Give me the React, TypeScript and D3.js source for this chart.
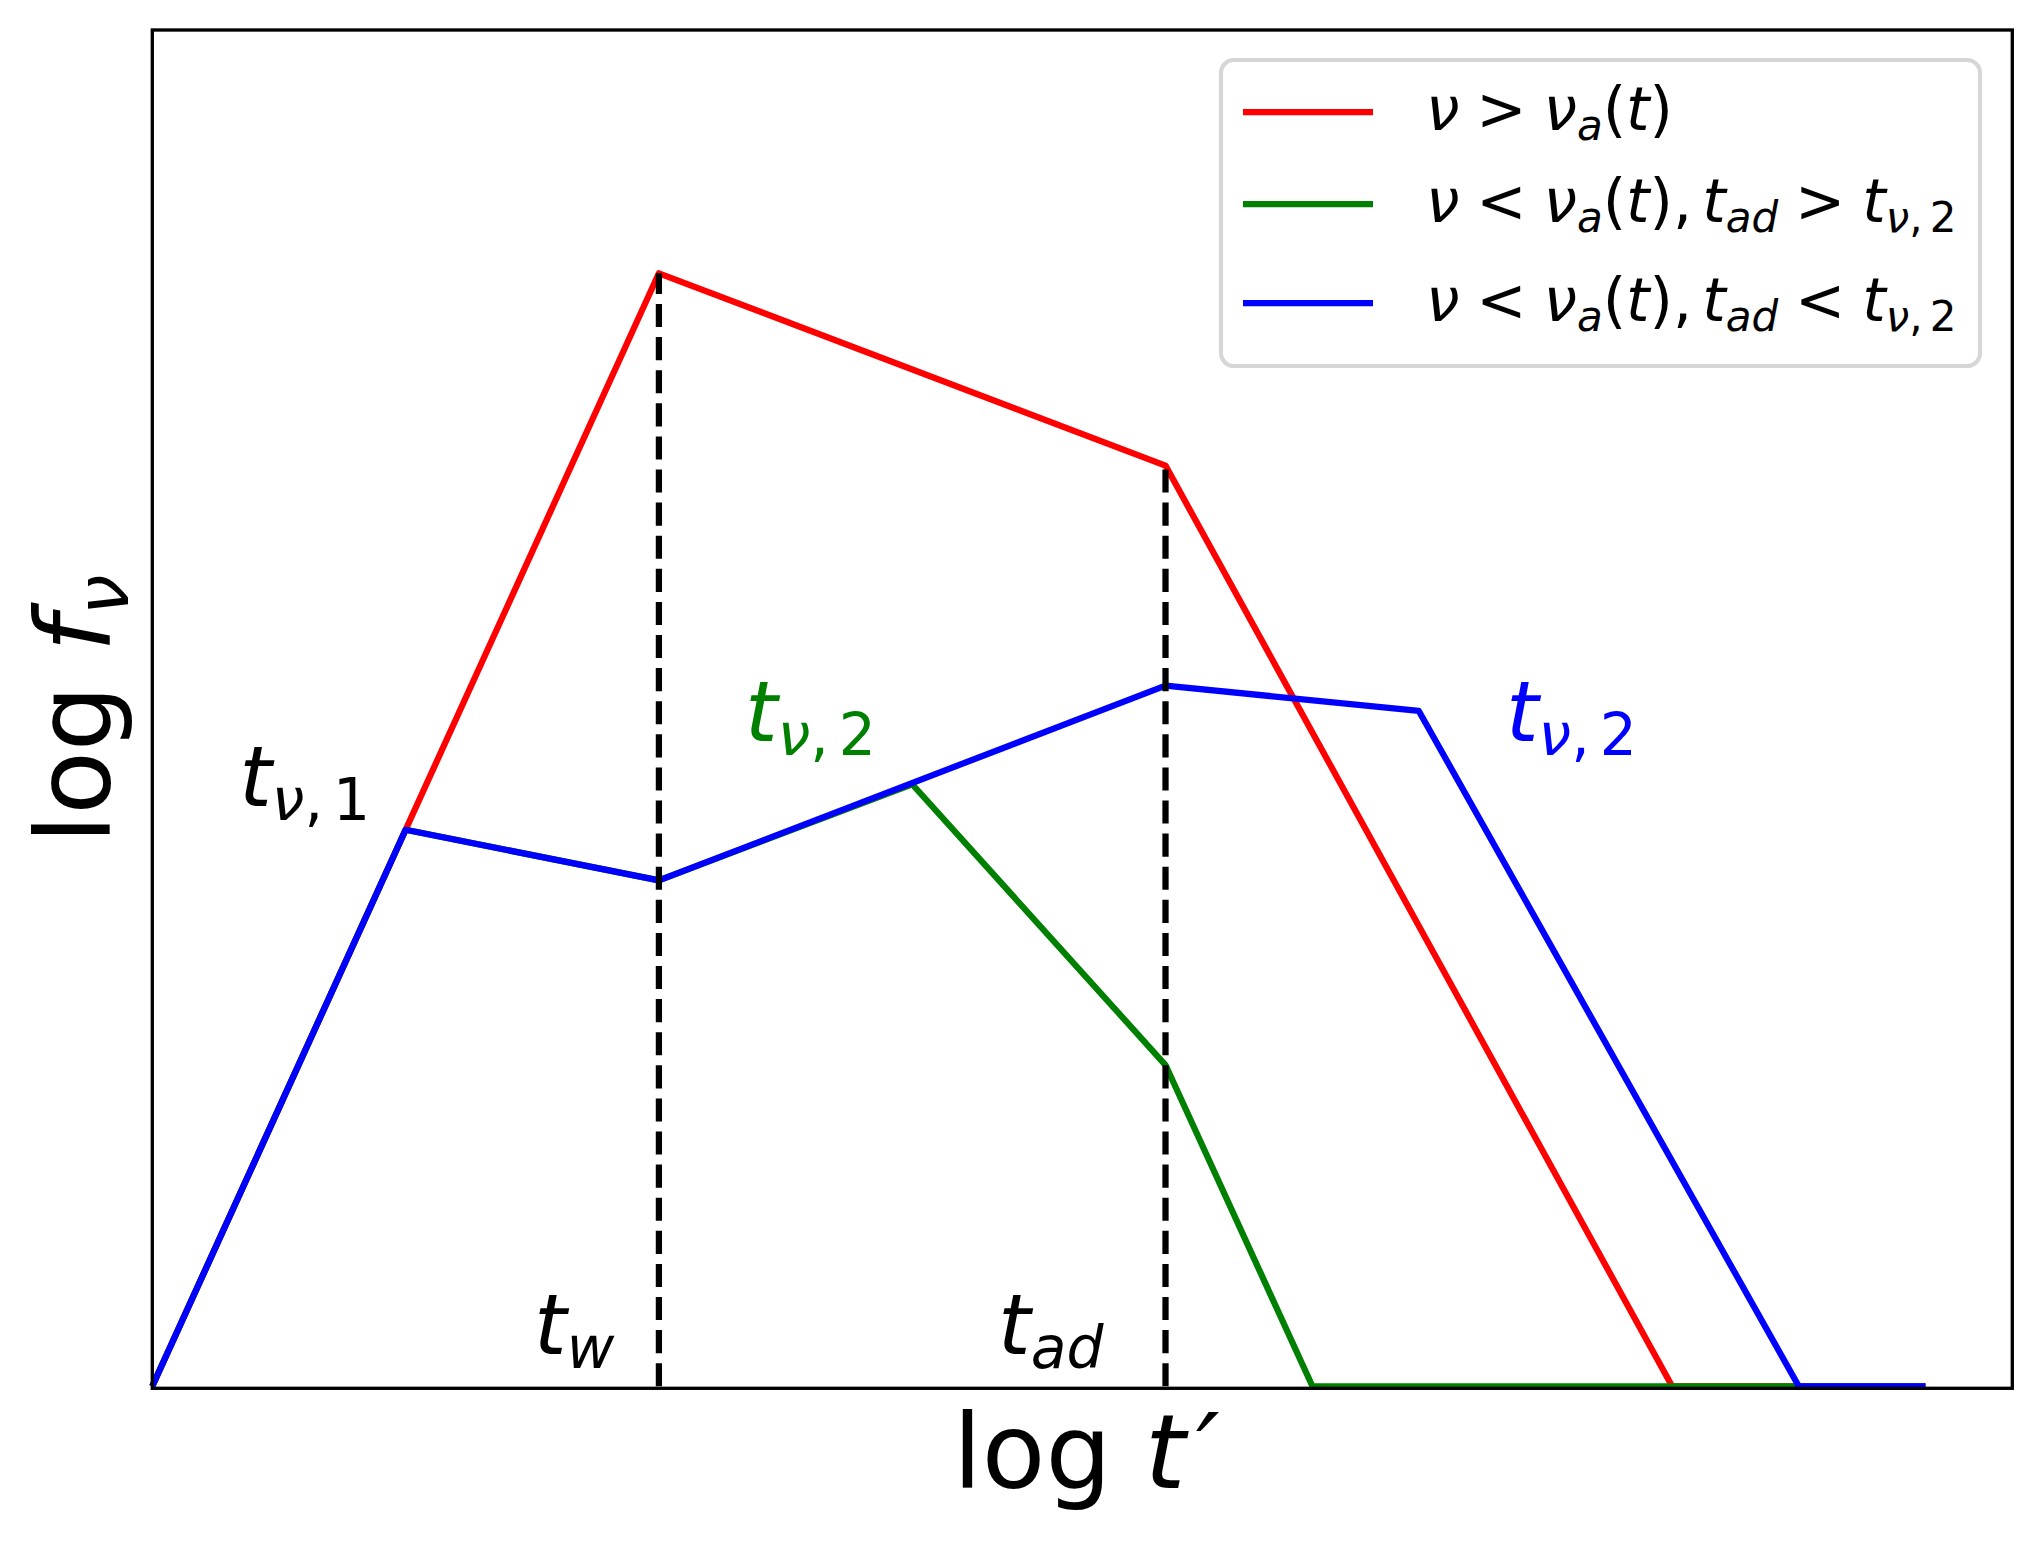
import React from 'react';
import * as d3 from 'd3';

// ---- data (schematic light-curve segments, log units) ----
const redX = [0, 2, 4, 6, 7];
const redY = [0, 4.4, 3.64, 0, 0];
const greenX = [0, 1, 2, 3, 4, 4.58, 7];
const greenY = [0, 2.2, 2.0, 2.38, 1.27, 0, 0];
const blueX = [0, 1, 2, 4, 5, 6.5, 7];
const blueY = [0, 2.2, 2.0, 2.77, 2.67, 0, 0];
const markerX = [2, 4]; // t_w, t_ad
const markerTop = [4.4, 3.64];

type Seg = { t: string; i?: boolean; s?: boolean; dx?: number; sz?: number; sh?: number };

const seriesNames = ['red', 'green', 'blue'];
const R = 0.28; // relation spacing (em)
const legendLabels: Seg[][] = [
  [{ t: 'ν', i: true }, { t: '>', dx: R }, { t: 'ν', i: true, dx: R }, { t: 'a', i: true, s: true }, { t: '(' }, { t: 't', i: true }, { t: ')' }],
  [{ t: 'ν', i: true }, { t: '<', dx: R }, { t: 'ν', i: true, dx: R }, { t: 'a', i: true, s: true }, { t: '(' }, { t: 't', i: true }, { t: ')' }, { t: ',' },
   { t: 't', i: true, dx: 0.17 }, { t: 'ad', i: true, s: true }, { t: '>', dx: R }, { t: 't', i: true, dx: R }, { t: 'ν', i: true, s: true }, { t: ',', s: true }, { t: '2', s: true, dx: 0.12 }],
  [{ t: 'ν', i: true }, { t: '<', dx: R }, { t: 'ν', i: true, dx: R }, { t: 'a', i: true, s: true }, { t: '(' }, { t: 't', i: true }, { t: ')' }, { t: ',' },
   { t: 't', i: true, dx: 0.17 }, { t: 'ad', i: true, s: true }, { t: '<', dx: R }, { t: 't', i: true, dx: R }, { t: 'ν', i: true, s: true }, { t: ',', s: true }, { t: '2', s: true, dx: 0.12 }],
];

const annoText: Seg[][] = [
  [{ t: 't', i: true }, { t: 'ν', i: true, s: true }, { t: ',', s: true }, { t: '1', s: true, dx: 0.12 }],
  [{ t: 't', i: true }, { t: 'ν', i: true, s: true }, { t: ',', s: true }, { t: '2', s: true, dx: 0.12 }],
  [{ t: 't', i: true }, { t: 'ν', i: true, s: true }, { t: ',', s: true }, { t: '2', s: true, dx: 0.12 }],
  [{ t: 't', i: true }, { t: 'w', i: true, s: true }],
  [{ t: 't', i: true }, { t: 'ad', i: true, s: true }],
];
const annoX = [0.343, 2.34, 5.344, 1.507, 3.339];
const annoY = [2.295, 2.551, 2.551, 0.128, 0.128];
const annoColor = ['black', 'green', 'blue', 'black', 'black'];

const xLabel: Seg[] = [{ t: 'log' }, { t: 't', i: true, dx: 0.32 }, { t: '′', i: true, dx: 0.1 }];
const yLabel: Seg[] = [{ t: 'log' }, { t: 'f', i: true, dx: 0.32 }, { t: 'ν', i: true, s: true }];

// ---- layout ----
const W = 2041, H = 1542;
const AX = { left: 152.3, right: 2012.3, top: 30, bottom: 1388.3 };
const FONT = 'DejaVu Sans';
const LW = 6.25;

function MathSpans({ segs, fs, sub = 0.17 }: { segs: Seg[]; fs: number; sub?: number }) {
  let cur = 0;
  return (
    <>
      {segs.map((sg, k) => {
        const target = sg.s ? sub * fs : (sg.sh || 0) * fs;
        const dy = target - cur;
        cur = target;
        const size = sg.s ? fs * 0.7 : fs * (sg.sz || 1);
        return (
          <tspan
            key={k}
            dy={dy}
            dx={sg.dx ? sg.dx * fs : 0}
            fontStyle={sg.i ? 'italic' : 'normal'}
            fontSize={size}
          >
            {sg.t}
          </tspan>
        );
      })}
    </>
  );
}

export default function App() {
  const x = d3.scaleLinear().domain([0, 7.343]).range([AX.left, AX.right]);
  const y = d3.scaleLinear().domain([-0.008, 5.362]).range([AX.bottom, AX.top]);
  const line = d3.line<[number, number]>().x(d => x(d[0])).y(d => y(d[1]));
  const series = [
    { xs: redX, ys: redY, c: 'red' },
    { xs: greenX, ys: greenY, c: 'green' },
    { xs: blueX, ys: blueY, c: 'blue' },
  ];
  const legColors = ['red', 'green', 'blue'];
  const legRowY = [112, 204, 303];
  const legFs = 60;

  return (
    <svg width={W} height={H} style={{ position: 'absolute', left: 0, top: 0, background: 'white' }} fontFamily={FONT}>
      <rect x={0} y={0} width={W} height={H} fill="white" />
      {series.map((s, k) => (
        <path key={seriesNames[k]} d={line(s.xs.map((v, i) => [v, s.ys[i]] as [number, number])) || ''}
          fill="none" stroke={s.c} strokeWidth={LW} strokeLinejoin="round" strokeLinecap="butt" />
      ))}
      {markerX.map((mx, k) => (
        <line key={k} x1={x(mx)} x2={x(mx)} y1={y(0)} y2={y(markerTop[k])}
          stroke="black" strokeWidth={6.25} strokeDasharray="23.1 10" />
      ))}
      {annoText.map((segs, k) => (
        <text key={k} x={x(annoX[k])} y={y(annoY[k])} fill={annoColor[k]} fontSize={83.3}>
          <MathSpans segs={segs} fs={83.3} />
        </text>
      ))}
      {/* frame */}
      <rect x={AX.left} y={AX.top} width={AX.right - AX.left} height={AX.bottom - AX.top}
        fill="none" stroke="black" strokeWidth={3.33} />
      {/* axis labels */}
      <text x={(AX.left + AX.right) / 2 + 4} y={1488} textAnchor="middle" fontSize={104}>
        <MathSpans segs={xLabel} fs={104} />
      </text>
      <g transform={`translate(110, ${(AX.top + AX.bottom) / 2}) rotate(-90)`}>
        <text x={0} y={0} textAnchor="middle" fontSize={104}>
          <MathSpans segs={yLabel} fs={104} />
        </text>
      </g>
      {/* legend */}
      <rect x={1221} y={60} width={759} height={306} rx={13} ry={13}
        fill="white" fillOpacity={0.8} stroke="#cccccc" strokeOpacity={0.8} strokeWidth={4.17} />
      {legendLabels.map((segs, k) => (
        <g key={k}>
          <line x1={1243} x2={1373} y1={legRowY[k]} y2={legRowY[k]} stroke={legColors[k]} strokeWidth={LW} />
          <text x={1426} y={legRowY[k] + 18} fontSize={legFs}>
            <MathSpans segs={segs} fs={legFs} />
          </text>
        </g>
      ))}
    </svg>
  );
}
